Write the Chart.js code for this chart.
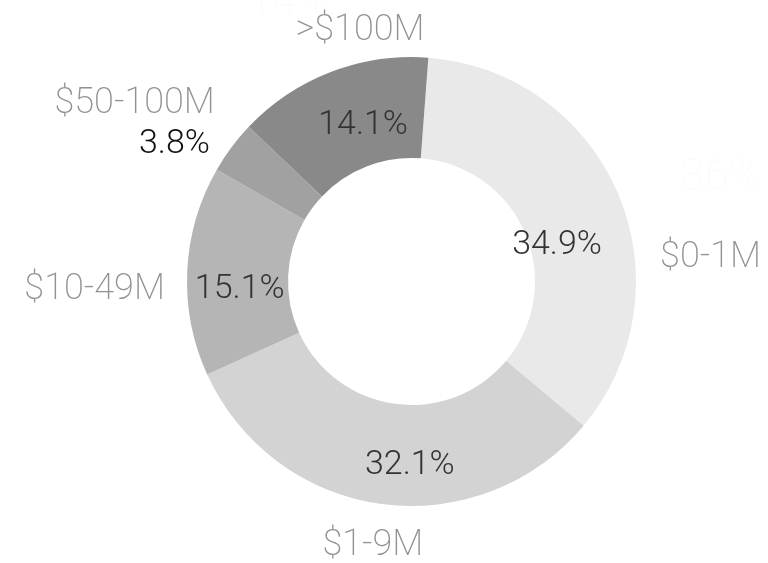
<!DOCTYPE html>
<html lang="en">
<head>
    <meta charset="UTF-8">
    <title>Revenue bands</title>
    <script src="https://cdn.jsdelivr.net/npm/chart.js@4.4.1/dist/chart.umd.min.js"></script>
    <style>
        html, body { margin: 0; padding: 0; background: #fff; }
        #wrap { width: 768px; height: 563px; }
    </style>
</head>
<body>
    <div id="wrap"><canvas id="donut" width="768" height="563"></canvas></div>

    <script>
        // Share of companies by revenue band
        const bands = ['$0-1M', '$1-9M', '$10-49M', '$50-100M', '>$100M'];
        const shares = [34.9, 32.1, 15.1, 3.8, 14.1];
        const sliceColors = ['#e9e9e9', '#d3d3d3', '#b5b5b5', '#a1a1a1', '#898989'];

        const labelFont = '"Roboto", "Liberation Sans", sans-serif';

        // label placement: [degrees turned from the slice's mid angle, distance from centre]
        const pctPlace  = [[8.9, 150], [-7.2, 184], [-5.5, 172], [-6.6, 274], [3.8, 163]];
        const namePlace = [[18.4, 300], [0.6, 267], [-4.2, 317], [-4.0, 329], [9.5, 256]];

        const polar = (p, mid, place) => {
            const a = mid + place[0] * Math.PI / 180;
            return [p.x + Math.cos(a) * place[1], p.y + Math.sin(a) * place[1]];
        };

        // Percentage on each slice, band name outside it; the thin slice
        // gets its number outside, under its name.
        const sliceLabels = {
            id: 'sliceLabels',
            afterDatasetsDraw(chart) {
                const ctx = chart.ctx;
                const meta = chart.getDatasetMeta(0);
                ctx.save();
                ctx.textAlign = 'center';
                ctx.textBaseline = 'middle';
                meta.data.forEach((arc, i) => {
                    const p = arc.getProps(['x', 'y', 'startAngle', 'endAngle'], true);
                    const mid = (p.startAngle + p.endAngle) / 2;

                    const [nx, ny] = polar(p, mid, namePlace[i]);
                    ctx.font = '200 36px ' + labelFont;
                    ctx.fillStyle = '#929292';
                    ctx.fillText(bands[i], nx, ny);

                    const [px, py] = polar(p, mid, pctPlace[i]);
                    ctx.font = '300 34px ' + labelFont;
                    ctx.fillStyle = shares[i] < 5 ? '#111' : '#333';
                    ctx.fillText(shares[i].toFixed(1) + '%', px, py);
                });

                // faint leftover figures in the background
                ctx.font = '300 44px ' + labelFont;
                ctx.fillStyle = 'rgba(0,0,0,0.012)';
                ctx.textAlign = 'left';
                ctx.textBaseline = 'alphabetic';
                ctx.fillText('36%', 680, 190);
                ctx.fillText('14%', 248, 14);
                ctx.restore();
            }
        };

        new Chart(document.getElementById('donut'), {
            type: 'doughnut',
            data: {
                labels: bands,
                datasets: [{
                    data: shares,
                    backgroundColor: sliceColors,
                    borderWidth: 0,
                    hoverOffset: 0
                }]
            },
            options: {
                responsive: false,
                animation: false,
                rotation: 4.3,
                cutout: '55%',
                layout: { padding: { top: 57, bottom: 57, left: 112, right: 57 } },
                plugins: {
                    legend: { display: false },
                    tooltip: { enabled: false }
                }
            },
            plugins: [sliceLabels]
        });
    </script>
</body>
</html>
